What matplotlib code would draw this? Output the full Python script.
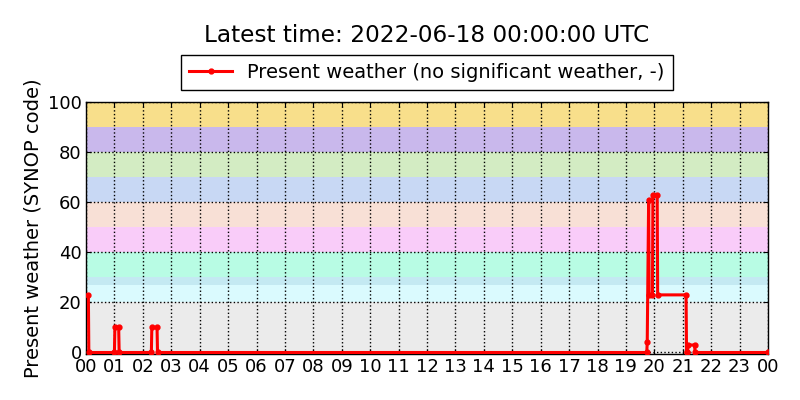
"""
Present weather (SYNOP code) time series for one day, with the code bands shaded.
"""
import matplotlib
matplotlib.use("Agg")
import matplotlib.pyplot as plt

# observed points (UTC time, SYNOP code)
obs_times = [
    "00:05", "00:06", "01:00", "01:01", "01:09", "01:10",
    "02:18", "02:19", "02:30", "02:31",
    "19:44", "19:45", "19:48", "19:49", "19:56", "19:57", "20:06", "20:07",
    "21:07", "21:08", "21:10", "21:11", "21:25", "21:26", "23:59",
]
obs_codes = [
    23, 0, 0, 10, 10, 0,
    0, 10, 10, 0,
    0, 4, 61, 23, 23, 63, 63, 23,
    23, 0, 0, 3, 3, 0, 0,
]

# shaded SYNOP code bands (lower, upper, colour)
band_low = [0, 20, 27, 30, 40, 50, 60, 70, 80, 90]
band_high = [20, 27, 30, 40, 50, 60, 70, 80, 90, 100]
band_colors = ["#ebebeb", "#dafafe", "#c4e9f2", "#b8fce4", "#f9ccf9",
               "#f8e0d6", "#c8d8f4", "#d3ecc3", "#c9b8ec", "#f8df8b"]

hour_labels = ["%02d" % (h % 24) for h in range(25)]

title = "Latest time: 2022-06-18 00:00:00 UTC"
series_label = "Present weather (no significant weather, -)"


def to_hours(hhmm):
    h, m = hhmm.split(":")
    return int(h) + int(m) / 60.0


def main():
    plt.rcParams["font.family"] = "DejaVu Sans"
    fig = plt.figure(figsize=(8, 4), dpi=100)
    ax_rect = [0.1075, 0.115, 0.8525, 0.63]
    ax = fig.add_axes(ax_rect)
    # lowest band colour under everything, so the tiny margin below 0 is filled
    ax.set_facecolor(band_colors[0])

    for lo, hi, c in zip(band_low, band_high, band_colors):
        ax.axhspan(lo, hi, color=c, lw=0, zorder=0)

    x = [to_hours(t) for t in obs_times]
    ax.plot(x, obs_codes, color="red", lw=2.2, marker="o", ms=3.5,
            mec="red", label=series_label, zorder=3)

    ax.set_xlim(0, 24)
    # small margin so the zero line is not half clipped by the bottom spine
    ax.set_ylim(-0.6, 100)
    ax.set_xticks(range(25))
    ax.set_xticklabels(hour_labels)
    ax.set_yticks(range(0, 101, 20))
    ax.tick_params(direction="in", top=True, right=True, labelsize=13, pad=3)
    ax.grid(True, color="black", ls=":", lw=1, zorder=1)
    ax.set_axisbelow(False)
    for sp in ax.spines.values():
        sp.set_linewidth(1)
    ax.set_ylabel("Present weather (SYNOP code)", fontsize=14)

    ax.legend(loc="lower center", bbox_to_anchor=(0.5, 1.048), fontsize=14,
              fancybox=False, edgecolor="black", framealpha=1,
              handlelength=2.2, borderaxespad=0)
    # title centred over the axes, not the figure
    fig.text(ax_rect[0] + ax_rect[2] / 2, 0.9125, title,
             ha="center", va="center", fontsize=16.7)

    fig.savefig("out.png", dpi=100)
    plt.close(fig)


if __name__ == "__main__":
    main()
